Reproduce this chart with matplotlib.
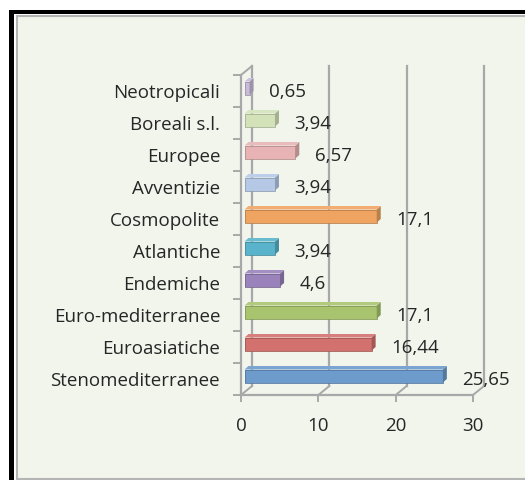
import matplotlib
matplotlib.use("Agg")
import matplotlib.pyplot as plt
from matplotlib.patches import Rectangle, Polygon
from matplotlib.colors import to_rgb

categories = ["Stenomediterranee", "Euroasiatiche", "Euro-mediterranee", "Endemiche",
              "Atlantiche", "Cosmopolite", "Avventizie", "Europee", "Boreali s.l.", "Neotropicali"]
values = [25.65, 16.44, 17.1, 4.6, 3.94, 17.1, 3.94, 6.57, 3.94, 0.65]
value_labels = ["25,65", "16,44", "17,1", "4,6", "3,94", "17,1", "3,94", "6,57", "3,94", "0,65"]
colors = ["#6C9BCC", "#D2716D", "#A8C46E", "#9A83BB", "#58B3CB",
          "#EFA462", "#B5C9E6", "#E7B3B4", "#D4E2BA", "#C8BCDA"]
xticks = [0, 10, 20, 30]

W, H = 525, 480
BG = "#F2F5EC"
GRID = "#A8A8A8"
TXT = "#262626"
FONT = "Open Sans"
FS = 13.5

fig = plt.figure(figsize=(W / 100, H / 100), dpi=100)
fig.patch.set_facecolor("white")


def px_rect(left, top, right, bottom, **kw):
    # rectangle given in image pixels (origin top-left)
    r = Rectangle((left / W, 1 - bottom / H), (right - left) / W, (bottom - top) / H,
                  transform=fig.transFigure, **kw)
    fig.patches.append(r)


# outer frame: black border, white gap, gray inner line, cream fill
px_rect(9, 10, 540, 500, facecolor="black", edgecolor="none", zorder=-3)
px_rect(14, 14, 540, 500, facecolor="white", edgecolor="none", zorder=-2)
px_rect(16.5, 15.5, 540, 478.5, facecolor=BG, edgecolor="#B4B4B4", linewidth=1.5, zorder=-1)

# axes: front plane of the 3D box
x0_px, x1_px = 241, 473
ytop_px, ybot_px = 75, 395
ax = fig.add_axes([x0_px / W, 1 - ybot_px / H, (x1_px - x0_px) / W, (ybot_px - ytop_px) / H])
ax.set_xlim(0, 30)
ax.set_ylim(-0.5, len(categories) - 0.5)
ax.patch.set_visible(False)

px_x = 30 / (x1_px - x0_px)
px_y = len(categories) / (ybot_px - ytop_px)
# back wall offset
Dx, Dy = 11 * px_x, 9 * px_y
y_lo, y_hi = -0.5, len(categories) - 0.5

for g in xticks:
    ax.plot([g + Dx, g + Dx], [y_lo + Dy, y_hi + Dy], color=GRID, lw=1.6, clip_on=False, zorder=0)
    ax.plot([g, g + Dx], [y_lo, y_lo + Dy], color=GRID, lw=1.4, clip_on=False, zorder=0)
ax.plot([0, Dx], [y_hi, y_hi + Dy], color=GRID, lw=1.4, clip_on=False, zorder=0)

for s in ["top", "right"]:
    ax.spines[s].set_visible(False)
for s in ["left", "bottom"]:
    ax.spines[s].set_color(GRID)
    ax.spines[s].set_linewidth(1.6)

# bars (front face offset into depth)
fx, fy = 3.5 * px_x, 3 * px_y
bx, by = 4 * px_x, 3.5 * px_y
bh = 13 * px_y
ypos = list(range(len(categories)))
ax.barh([y + fy for y in ypos], values, left=fx, height=bh, color=colors,
        edgecolor="none", zorder=3)
for y, v, c in zip(ypos, values, colors):
    r, g_, b = to_rgb(c)
    dark = (r * 0.78, g_ * 0.78, b * 0.78)
    light = tuple(min(1, t * 0.9 + 0.1) for t in (r, g_, b))
    xr = fx + v
    yb, yt = y + fy - bh / 2, y + fy + bh / 2
    ax.add_patch(Polygon([(xr, yb), (xr, yt), (xr + bx, yt + by), (xr + bx, yb + by)],
                         closed=True, facecolor=dark, edgecolor="none", zorder=3, clip_on=False))
    ax.add_patch(Polygon([(fx, yt), (xr, yt), (xr + bx, yt + by), (fx + bx, yt + by)],
                         closed=True, facecolor=light, edgecolor="none", zorder=3, clip_on=False))
    ax.add_patch(Polygon([(fx, yb), (xr, yb), (xr, yt), (fx, yt)], closed=True, facecolor="none",
                         edgecolor=dark, linewidth=0.6, zorder=4, clip_on=False))

for y, v, t in zip(ypos, values, value_labels):
    ax.annotate(t, (v, y), xytext=(23, -1), textcoords="offset pixels", va="center", ha="left",
                fontsize=FS, family=FONT, color=TXT, zorder=5)

ax.set_yticks(ypos)
ax.set_yticklabels(categories, fontsize=FS, family=FONT, color=TXT)
ax.set_yticks([y - 0.5 for y in ypos] + [y_hi], minor=True)
ax.tick_params(axis="y", which="major", length=0, pad=15)
ax.tick_params(axis="y", which="minor", length=6, width=1.4, color=GRID)
ax.set_xticks(xticks)
ax.set_xticklabels([str(t) for t in xticks], fontsize=FS, family=FONT, color=TXT)
ax.tick_params(axis="x", length=5, width=1.4, color=GRID, pad=11)

fig.savefig("out.png", dpi=100, facecolor="white")
